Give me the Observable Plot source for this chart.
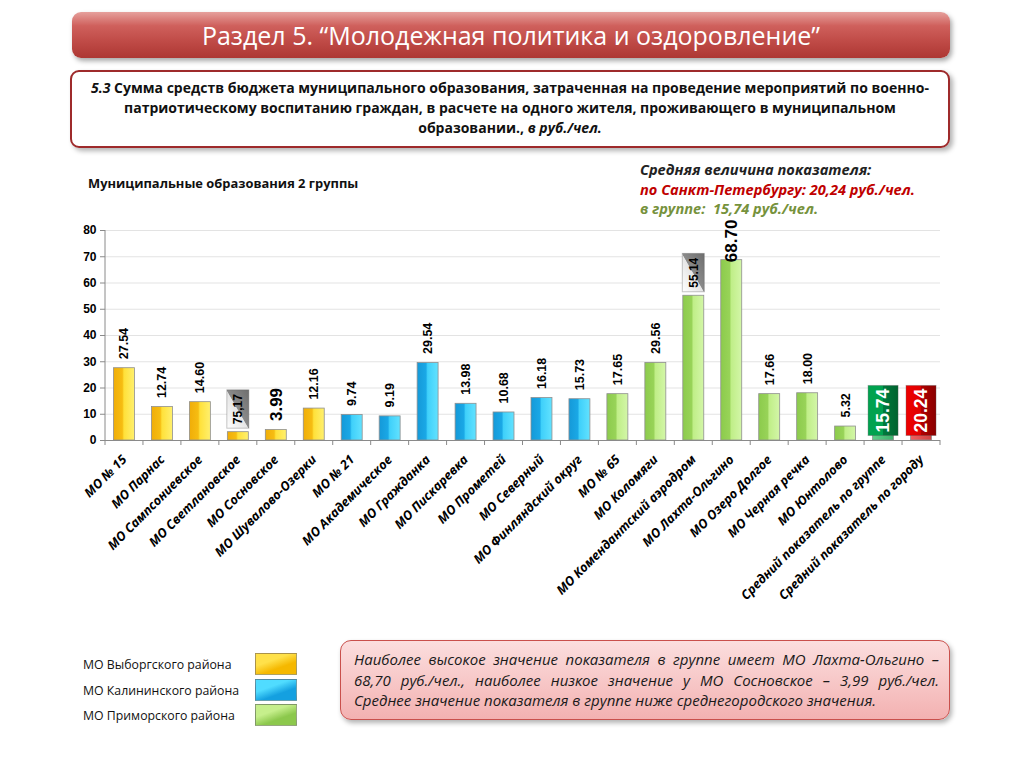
<!DOCTYPE html>
<html><head><meta charset="utf-8">
<script src="https://cdn.jsdelivr.net/npm/d3@7"></script>
<script src="https://cdn.jsdelivr.net/npm/@observablehq/plot@0.6"></script>
<style>
*{box-sizing:border-box;}
body{margin:0;background:#fff;}
#slide{position:relative;width:1024px;height:768px;overflow:hidden;font-family:"Open Sans",sans-serif;background:#fff;}
.banner{position:absolute;left:72px;top:12px;width:878px;height:46px;border-radius:9px;
  background:linear-gradient(#e6a09c 0%,#cf605c 30%,#bf4a46 65%,#ad3733 100%);
  box-shadow:2px 3px 5px rgba(0,0,0,.35);color:#fff;font-size:25px;text-align:center;line-height:46px;white-space:nowrap;}
.sub{position:absolute;left:70px;top:70px;width:880px;height:78px;border:2px solid #9e2a2b;border-radius:9px;
  box-shadow:3px 3px 5px rgba(0,0,0,.3);text-align:center;font-weight:700;font-size:14px;line-height:20px;padding-top:6px;color:#111;white-space:nowrap;}
.group{position:absolute;left:88px;top:174px;font-weight:700;font-size:12.9px;color:#111;white-space:nowrap;}
.avg{position:absolute;left:640px;top:160px;font-weight:700;font-style:italic;font-size:14.6px;line-height:19.5px;white-space:nowrap;}
#chart{position:absolute;left:0;top:215px;}
.legend{position:absolute;left:83px;top:656px;}
.legend .row{position:absolute;left:0;width:220px;height:22px;font-size:12.3px;color:#111;white-space:nowrap;}
.legend .sw{position:absolute;left:172px;top:-3px;width:42px;height:22px;border:1px solid rgba(120,120,120,.6);}
.note{position:absolute;left:340px;top:640px;width:610px;height:80px;border:1.5px solid #c9504c;border-radius:11px;
  background:linear-gradient(#fbdede 0%,#f7c6c6 55%,#f3b1b1 100%);box-shadow:2px 3px 5px rgba(0,0,0,.3);
  padding:8px 10px 0 13px;font-style:italic;font-size:15px;line-height:20.5px;color:#1a1a1a;}
.note .j{text-align:justify;text-align-last:justify;white-space:nowrap;}
</style></head>
<body><div id="slide">
<div class="banner">Раздел 5. “Молодежная политика и оздоровление”</div>
<div class="sub"><i>5.3</i> Сумма средств бюджета муниципального образования, затраченная на проведение мероприятий по военно-<br>патриотическому воспитанию граждан, в расчете на одного жителя, проживающего в муниципальном<br>образовании., <i>в руб./чел.</i></div>
<div class="group">Муниципальные образования 2 группы</div>
<div class="avg"><div style="color:#222">Средняя величина показателя:</div><div style="color:#c00000">по Санкт-Петербургу: 20,24 руб./чел.</div><div style="color:#76923c">в группе:&nbsp; 15,74 руб./чел.</div></div>
<div id="chart"></div>
<div class="legend" id="legend"></div>
<div class="note">
<div class="j">Наиболее высокое значение показателя в группе имеет МО Лахта-Ольгино –</div>
<div class="j">68,70 руб./чел., наиболее низкое значение у МО Сосновское – 3,99 руб./чел.</div>
<div>Среднее значение показателя в группе ниже среднегородского значения.</div>
</div>
</div>
<script>
// ---- data ----
const categories = ["МО № 15","МО Парнас","МО Сампсониевское","МО Светлановское","МО Сосновское","МО Шувалово-Озерки",
  "МО № 21","МО Академическое","МО Гражданка","МО Пискаревка","МО Прометей","МО Северный","МО Финляндский округ",
  "МО № 65","МО Коломяги","МО Комендантский аэродром","МО Лахта-Ольгино","МО Озеро Долгое","МО Черная речка","МО Юнтолово",
  "Средний показатель по группе","Средний показатель по городу"];
const values = [27.54,12.74,14.60,3.17,3.99,12.16, 9.74,9.19,29.54,13.98,10.68,16.18,15.73, 17.65,29.56,55.14,68.70,17.66,18.00,5.32, 15.74,20.24];
const groups = ["Выборгский","Выборгский","Выборгский","Выборгский","Выборгский","Выборгский",
  "Калининский","Калининский","Калининский","Калининский","Калининский","Калининский","Калининский",
  "Приморский","Приморский","Приморский","Приморский","Приморский","Приморский","Приморский",
  "группа","город"];
const labels = ["27.54","12.74","14.60","75,17","3.99","12.16","9.74","9.19","29.54","13.98","10.68","16.18","15.73",
  "17.65","29.56","55.14","68.70","17.66","18.00","5.32","15.74","20.24"];
const yTicks = [0,10,20,30,40,50,60,70,80];
const bigLabels = ["МО Сосновское"];
const topLabels = ["МО Лахта-Ольгино"];
const calloutLabels = ["МО Светлановское","МО Комендантский аэродром"];
const averageLabels = ["Средний показатель по группе","Средний показатель по городу"];
const legendNames = ["МО Выборгского района","МО Калининского района","МО Приморского района"];
const groupKeys = ["Выборгский","Калининский","Приморский","группа","город"];
const groupFills = ["url(#gY)","url(#gB)","url(#gG)","url(#gAG)","url(#gAR)"];

const data = categories.map((c,i)=>({cat:c, value:values[i], group:groups[i], label:labels[i]}));
const special = new Set([...bigLabels,...topLabels,...calloutLabels,...averageLabels]);

const chart = Plot.plot({
  width: 1024, height: 400,
  marginLeft: 105, marginRight: 84, marginTop: 15, marginBottom: 175,
  x: {domain: categories, padding: 0, round: false, label: null},
  y: {domain: [0,80], label: null},
  color: {domain: groupKeys, range: groupFills},
  style: {fontFamily: "'Liberation Sans', Arial, sans-serif", fontSize: "12px", background: "transparent", color: "#000", overflow: "visible"},
  marks: [
    Plot.gridY(yTicks, {stroke: "#e3e3e3", strokeOpacity: 1}),
    Plot.barY(data, {x: "cat", y: "value", fill: "group", stroke: "#8f8f8f", strokeWidth: 0.8, insetLeft: 8.5, insetRight: 8.5}),
    Plot.ruleY([0], {stroke: "#8a8a8a"}),
    Plot.axisY(yTicks, {tickSize: 5, tickPadding: 4, fontWeight: "bold", fontSize: 12, stroke: "#8a8a8a"}),
    Plot.axisX({tickSize: 0, tickRotate: -45, tickPadding: 17, fontStyle: "italic", fontWeight: "bold",
      fontFamily: "'Open Sans', sans-serif", fontSize: 12.7}),
    Plot.text(data, {filter: d => !special.has(d.cat), x: "cat", y: "value", text: "label", rotate: -90,
      textAnchor: "start", dy: -9, fontWeight: "bold", fontSize: 12.5}),
    Plot.text(data, {filter: d => bigLabels.includes(d.cat), x: "cat", y: "value", text: "label", rotate: -90,
      textAnchor: "start", dy: -9, fontWeight: "bold", fontSize: 17}),
    Plot.text(data, {filter: d => topLabels.includes(d.cat), x: "cat", y: "value", text: "label", rotate: -90,
      textAnchor: "start", dy: 2, fontWeight: "bold", fontSize: 17}),
    Plot.text(data, {filter: d => calloutLabels.includes(d.cat), x: "cat", y: "value", text: "label", rotate: -90,
      textAnchor: "start", dy: -8, fontWeight: "bold", fontSize: 12, className: "callout-grey"}),
    Plot.text(data, {filter: d => averageLabels.includes(d.cat), x: "cat", y: 0, text: "label", rotate: -90,
      textAnchor: "start", dy: -8, fontWeight: "bold", fontSize: 17.5, fill: "#fff", className: "callout-avg"})
  ]
});
document.getElementById("chart").appendChild(chart);

// ---- gradients ----
const svg = d3.select(chart);
const defs = svg.insert("defs", ":first-child");
function hgrad(id, stops, x2=1, y2=0, x1=0, y1=0){
  const g = defs.append("linearGradient").attr("id", id).attr("x1",x1).attr("y1",y1).attr("x2",x2).attr("y2",y2);
  stops.forEach(([o,c]) => g.append("stop").attr("offset", o).attr("stop-color", c));
}
hgrad("gY", [[0,"#f0ad08"],[0.42,"#f6bd12"],[0.5,"#ffe13a"],[1,"#fff06e"]]);
hgrad("gB", [[0,"#1599d8"],[0.42,"#1aa8e6"],[0.5,"#3fd0fa"],[1,"#62e2ff"]]);
hgrad("gG", [[0,"#8ccb4c"],[0.42,"#98d358"],[0.5,"#c0ee88"],[1,"#d3f6a8"]]);
hgrad("gAG", [[0,"#5ccf88"],[1,"#3cb06a"]]);
hgrad("gAR", [[0,"#f06060"],[1,"#d04040"]]);
hgrad("gGrey", [[0,"#ffffff"],[0.48,"#e6e6e6"],[0.5,"#8a8a8a"],[1,"#6e6e6e"]], 1, 0, 0, 1);
hgrad("gBoxG", [[0,"#00a24f"],[0.48,"#00a24f"],[0.5,"#007a3d"],[1,"#00632f"]]);
hgrad("gBoxR", [[0,"#ee0000"],[0.48,"#e00000"],[0.5,"#b00000"],[1,"#8a0000"]]);

// ---- category tick marks at band boundaries & left axis line ----
const xs = chart.scale("x"), ys = chart.scale("y");
const r0 = xs.range[0], r1 = xs.range[1];
const step = (r1 - r0) / categories.length;
const y0 = ys.apply(0), yTop = ys.apply(80);
const tickG = svg.append("g").attr("stroke", "#8a8a8a");
for (let i = 0; i <= categories.length; i++) {
  tickG.append("line").attr("x1", r0 + i*step).attr("x2", r0 + i*step).attr("y1", y0).attr("y2", y0 + 5);
}
tickG.append("line").attr("x1", r0).attr("x2", r0).attr("y1", yTop).attr("y2", y0);

// ---- label boxes (centred on the band, sized from the text) ----
const sb = chart.getBoundingClientRect();
function boxes(cls, cats, fills, padX, padY){
  chart.querySelectorAll("g." + cls + " text, ." + cls + " text").forEach((t,i) => {
    const b = t.getBoundingClientRect();
    const g = t.closest("g");
    const cx = xs.apply(cats[i]) + xs.bandwidth / 2;
    const w = b.width + 2*padX;
    const r = document.createElementNS("http://www.w3.org/2000/svg","rect");
    r.setAttribute("x", cx - w/2);
    r.setAttribute("y", b.top - sb.top - padY);
    r.setAttribute("width", w);
    r.setAttribute("height", b.height + 2*padY);
    r.setAttribute("fill", fills[i % fills.length]);
    r.setAttribute("stroke", "rgba(90,90,90,0.35)");
    g.parentNode.insertBefore(r, g);
  });
}
boxes("callout-grey", calloutLabels, ["url(#gGrey)"], 4, 4);
boxes("callout-avg", averageLabels, ["url(#gBoxG)","url(#gBoxR)"], 5, 3);

// ---- legend ----
const leg = document.getElementById("legend");
const legCols = [["#f5b800","#ffe14a"],["#14a0e0","#50dcff"],["#8cc84c","#c6ef8c"]];
legendNames.forEach((n,i) => {
  const row = document.createElement("div");
  row.className = "row"; row.style.top = (i*25.5) + "px";
  row.innerHTML = `<span style="position:absolute;left:0;top:0">${n}</span>`;
  const sw = document.createElement("div");
  sw.className = "sw";
  sw.style.background = `linear-gradient(160deg, ${legCols[i][1]} 0%, ${legCols[i][1]} 35%, ${legCols[i][0]} 65%, ${legCols[i][0]} 100%)`;
  row.appendChild(sw);
  leg.appendChild(row);
});
</script>
</body></html>
